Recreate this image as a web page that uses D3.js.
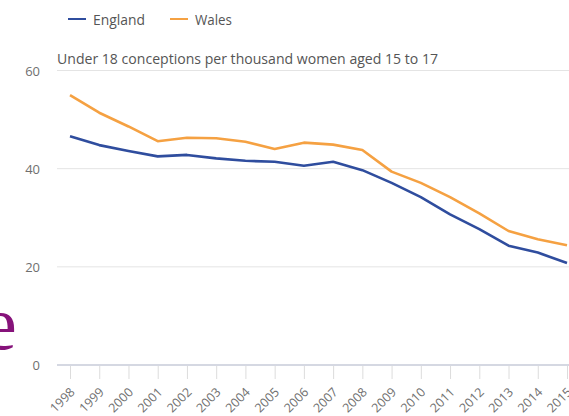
<!DOCTYPE html>
<html>
<head>
<meta charset="utf-8">
<script src="https://cdn.jsdelivr.net/npm/d3@7"></script>
<style>
  body { margin: 0; background: #fff; }
  svg { display: block; font-family: "Open Sans", sans-serif; }
</style>
</head>
<body>
<script>
const w = 569
const h = 416

// data
const years = ["1998","1999","2000","2001","2002","2003","2004","2005","2006",
  "2007","2008","2009","2010","2011","2012","2013","2014","2015"]
const england = [46.6, 44.8, 43.6, 42.5, 42.8, 42.1, 41.6, 41.4, 40.6,
  41.4, 39.7, 37.1, 34.2, 30.7, 27.7, 24.3, 22.9, 20.8]
const wales = [55.0, 51.4, 48.6, 45.6, 46.3, 46.2, 45.5, 44.0, 45.3,
  44.9, 43.8, 39.4, 37.1, 34.2, 30.9, 27.3, 25.6, 24.4]
const yTicks = [0, 20, 40, 60]

const blue = "#2f4d9e"
const orange = "#f5a142"

let svg = d3.select("body").append("svg").attr("width", w).attr("height", h)

let x = d3.scalePoint().domain(years).range([70, 567])
let y = d3.scaleLinear().domain([0, 60]).range([365, 70.5])

// gridlines
svg.selectAll("line.grid")
  .data(yTicks.filter(d => d > 0))
  .enter()
  .append("line")
  .attr("class", "grid")
  .attr("x1", 57).attr("x2", w)
  .attr("y1", d => y(d)).attr("y2", d => y(d))
  .attr("stroke", "#e4e4e4")
  .attr("stroke-width", 1)

// y labels
svg.selectAll("text.ylab")
  .data(yTicks)
  .enter()
  .append("text")
  .attr("class", "ylab")
  .attr("x", 40)
  .attr("y", d => y(d) + 5)
  .attr("text-anchor", "end")
  .attr("font-size", 13)
  .attr("fill", "#6f6f6f")
  .text(d => d)

// x axis
let xAxis = svg.append("g")
  .attr("transform", "translate(0," + y(0) + ")")
  .call(d3.axisBottom(x).tickSize(14).tickPadding(0))
xAxis.select(".domain").remove()
xAxis.selectAll(".tick line").attr("stroke", "#dcdcdc")
xAxis.selectAll(".tick text")
  .attr("fill", "#707070")
  .attr("font-size", 12.5)
  .attr("font-family", "Open Sans, sans-serif")
  .attr("text-anchor", "end")
  .attr("dy", null)
  .attr("y", 0)
  .attr("transform", "translate(5,28) rotate(-45)")
svg.append("line")
  .attr("x1", 57).attr("x2", w)
  .attr("y1", y(0)).attr("y2", y(0))
  .attr("stroke", "#d5d8e2")
  .attr("stroke-width", 2)

// title
svg.append("text")
  .attr("x", 57).attr("y", 64)
  .attr("font-size", 14)
  .attr("fill", "#555")
  .attr("textLength", 381)
  .attr("lengthAdjust", "spacingAndGlyphs")
  .text("Under 18 conceptions per thousand women aged 15 to 17")

// lines
let line = d3.line()
  .x((d, i) => x(years[i]))
  .y(d => y(d))

svg.append("path").datum(wales)
  .attr("d", line).attr("fill", "none")
  .attr("stroke", orange).attr("stroke-width", 2.6)
  .attr("stroke-linejoin", "round")
svg.append("path").datum(england)
  .attr("d", line).attr("fill", "none")
  .attr("stroke", blue).attr("stroke-width", 2.6)
  .attr("stroke-linejoin", "round")

// legend
let legend = [["England", blue, 68, 52], ["Wales", orange, 170, 37]]
legend.forEach(l => {
  svg.append("line")
    .attr("x1", l[2]).attr("x2", l[2] + 18)
    .attr("y1", 19).attr("y2", 19)
    .attr("stroke", l[1]).attr("stroke-width", 2)
  svg.append("text")
    .attr("x", l[2] + 25).attr("y", 25)
    .attr("font-size", 14.5)
    .attr("fill", "#555")
    .attr("textLength", l[3])
    .attr("lengthAdjust", "spacingAndGlyphs")
    .text(l[0])
})

// stray letter from the slide behind
svg.append("text")
  .attr("x", -17).attr("y", 349)
  .attr("font-family", "Liberation Serif, serif")
  .attr("font-size", 76)
  .attr("fill", "#86137a")
  .text("e")
</script>
</body>
</html>
